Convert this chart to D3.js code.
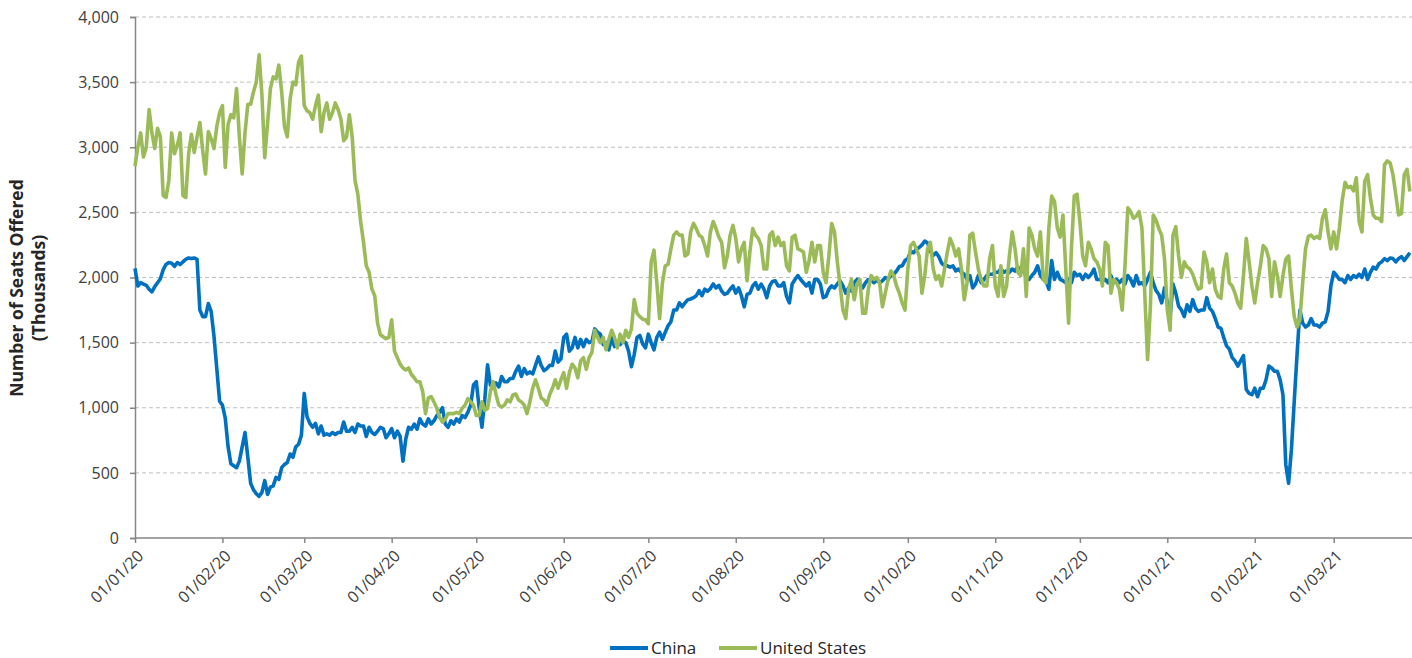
<!DOCTYPE html>
<html>
<head>
<meta charset="utf-8">
<script src="https://cdn.jsdelivr.net/npm/d3@7"></script>
<style>
  html, body { margin: 0; padding: 0; background: #fff; }
  svg { display: block; font-family: "Open Sans", Lato, sans-serif; }
</style>
</head>
<body>
<svg id="chart" width="1412" height="658"></svg>
<script>
// ---- data ----
const startDate = "2020-01-01";
const endDate = "2021-03-28";
const seriesNames = ["China", "United States"];
const yTicks = [0, 500, 1000, 1500, 2000, 2500, 3000, 3500, 4000];
const xTickDates = ["2020-01-01","2020-02-01","2020-03-01","2020-04-01","2020-05-01","2020-06-01",
  "2020-07-01","2020-08-01","2020-09-01","2020-10-01","2020-11-01","2020-12-01",
  "2021-01-01","2021-02-01","2021-03-01"];

const china = [
2070,1935,1960,1950,1940,1910,1890,1930,1960,1990,
2060,2100,2115,2110,2085,2115,2100,2120,2140,2150,
2145,2150,2140,1750,1700,1700,1800,1740,1550,1300,
1050,1020,920,700,570,555,540,590,700,810,
620,420,370,340,320,350,440,335,390,400,
465,450,540,565,580,645,620,700,720,790,
1110,930,880,850,880,800,860,790,800,790,
810,795,810,810,890,820,820,850,810,875,
860,860,780,850,810,795,820,850,840,770,
800,840,770,820,780,590,760,850,835,875,
835,915,875,860,915,875,900,940,965,1000,
875,850,900,875,915,890,940,925,965,1020,
1175,1200,1005,850,1060,1330,1175,1160,1190,1160,
1240,1200,1200,1225,1225,1280,1320,1240,1300,1260,
1275,1260,1325,1390,1325,1285,1300,1325,1325,1435,
1350,1375,1540,1565,1435,1460,1540,1460,1525,1470,
1525,1500,1510,1605,1580,1565,1485,1500,1445,1540,
1470,1500,1485,1510,1500,1435,1315,1410,1540,1555,
1490,1460,1565,1500,1445,1540,1580,1525,1580,1630,
1660,1750,1750,1805,1775,1805,1830,1835,1845,1860,
1900,1860,1910,1895,1915,1950,1920,1940,1895,1870,
1880,1910,1935,1880,1920,1860,1775,1870,1880,1935,
1960,1910,1950,1910,1845,1935,1970,1975,1935,1935,
1960,1855,1805,1950,1985,2015,1985,1960,1935,1960,
1880,1985,1985,1950,1845,1855,1910,1935,1920,1950,
1975,1935,1880,1920,1895,1960,1985,1950,1920,1960,
1985,1985,1960,1985,1960,1975,2000,1985,2015,2025,
2050,2085,2090,2130,2145,2200,2190,2215,2230,2250,
2280,2265,2200,2170,2190,2160,2110,2090,2090,2080,
2090,2050,2065,2040,2025,1985,2015,1920,1950,2015,
1960,1985,2015,2025,2025,2040,2040,2065,2040,2050,
2040,2065,2050,2080,2040,2065,2000,1985,2015,2040,
2090,2015,1985,1975,1910,2130,1985,2040,1985,1975,
1960,1985,1960,2040,2015,2025,1985,2025,2000,2025,
2065,1985,1985,1975,1985,1960,2015,1960,1985,1960,
1985,1950,2015,1985,1935,2015,1950,1960,1935,1985,
2040,1960,1900,1870,1805,1920,1805,1700,1950,1880,
1780,1750,1700,1790,1740,1830,1765,1740,1750,1750,
1845,1765,1740,1685,1620,1610,1540,1475,1450,1385,
1360,1320,1360,1400,1140,1110,1100,1150,1085,1150,
1150,1215,1320,1305,1280,1280,1215,1100,565,420,
680,1050,1410,1750,1650,1620,1635,1685,1635,1635,
1620,1650,1660,1740,1935,2040,2015,1985,1985,1960,
2015,1985,2015,2000,2025,2000,2065,1985,2040,2080,
2065,2105,2120,2145,2130,2150,2145,2120,2145,2160,
2130,2160,2190
];

const unitedStates = [
2855,3000,3110,2925,3000,3290,3110,2990,3145,3080,
2630,2615,2745,3110,2950,3015,3110,2630,2615,2950,
3100,2960,3080,3190,2975,2795,3120,3065,2990,3160,
3265,3320,2845,3175,3250,3225,3450,3080,2795,3110,
3330,3330,3425,3500,3710,3400,2920,3180,3450,3540,
3525,3630,3425,3160,3080,3370,3500,3480,3655,3700,
3320,3280,3265,3215,3320,3400,3120,3265,3340,3215,
3265,3340,3290,3215,3050,3080,3250,3080,2745,2640,
2430,2275,2090,2040,1910,1860,1650,1560,1545,1530,
1540,1675,1435,1385,1335,1305,1290,1305,1255,1230,
1200,1200,1125,955,1075,1085,1045,995,925,890,
915,955,955,955,965,955,995,1020,1070,1045,
1020,940,940,1045,980,995,1125,1200,1100,1020,
1005,1020,1060,1045,1100,1105,1060,1045,1020,955,
1045,1150,1215,1150,1075,1060,1020,1100,1150,1215,
1150,1215,1270,1150,1270,1335,1305,1230,1360,1385,
1295,1385,1425,1595,1540,1500,1540,1445,1525,1595,
1540,1460,1565,1500,1595,1540,1605,1830,1725,1700,
1680,1675,1645,2120,2210,1960,1685,1960,2090,2100,
2220,2325,2350,2325,2325,2165,2180,2350,2415,2375,
2325,2310,2245,2165,2350,2430,2375,2310,2270,2075,
2165,2325,2400,2300,2120,2220,2270,1975,2195,2375,
2325,2300,2245,2065,2065,2325,2350,2245,2310,2245,
2270,2090,2050,2310,2325,2220,2210,2195,2040,2130,
2270,2120,2245,2245,2040,1960,2165,2415,2350,2120,
1935,1750,1685,1910,1985,1830,1950,1985,1725,1725,
1910,2015,1985,2000,1960,1775,1880,1985,2050,2015,
1935,1880,1805,1750,2065,2245,2270,2220,2165,1880,
2015,2220,2270,2065,1985,2015,1935,2065,2195,2300,
2245,2165,2220,2065,1830,1960,2325,2340,2195,2065,
1985,1935,1935,2145,2245,1935,1855,2090,1855,1935,
2165,2350,2220,2040,2015,2220,1855,2380,2325,2220,
2165,2350,1985,1960,2380,2625,2585,2380,2310,2480,
2065,1650,2220,2625,2640,2430,2165,2090,2270,2220,
2145,2120,2065,1935,2270,2245,1880,1985,1960,1910,
1750,2090,2535,2505,2455,2470,2505,2380,1880,1370,
1775,2480,2440,2375,2325,2145,1750,1595,2325,2390,
2165,2000,2120,2080,2065,2025,1960,1910,1920,2195,
2120,1960,2065,1910,1855,1840,2065,2180,1960,1935,
1880,1805,1765,2015,2300,2120,1935,1805,1960,2090,
2245,2220,2145,1855,2120,2015,1855,2015,2140,2165,
1910,1700,1620,1675,1960,2220,2315,2325,2300,2315,
2300,2455,2520,2350,2220,2350,2220,2380,2590,2730,
2690,2700,2665,2765,2430,2350,2740,2790,2610,2480,
2455,2455,2430,2865,2895,2880,2790,2635,2480,2490,
2790,2830,2660
];

const seriesColors = ["#0070C0", "#9BBB59"];

// ---- chart ----
const svg = d3.select("#chart");
const plotLeft = 135, plotRight = 1412.7, plotTop = 17, plotBottom = 538;
const parse = d3.utcParse("%Y-%m-%d");
const dates = d3.utcDay.range(parse(startDate), d3.utcDay.offset(parse(endDate), 1));

const x = d3.scaleUtc()
  .domain([parse(startDate), d3.utcDay.offset(parse(endDate), 1)])
  .range([plotLeft, plotRight]);
const y = d3.scaleLinear().domain([0, 4000]).range([plotBottom, plotTop]);

// gridlines
svg.append("g").selectAll("line")
  .data(yTicks.filter(d => d > 0))
  .join("line")
  .attr("x1", plotLeft).attr("x2", 1412)
  .attr("y1", d => y(d)).attr("y2", d => y(d))
  .attr("stroke", "#BFBFBF").attr("stroke-width", 1)
  .attr("stroke-dasharray", "4,3");

// y axis
const yAxis = d3.axisLeft(y).tickValues(yTicks).tickFormat(d3.format(",")).tickSize(5).tickPadding(11);
const gy = svg.append("g").attr("transform", `translate(${plotLeft},0)`).call(yAxis);
gy.select(".domain").attr("stroke", "#868686").attr("stroke-width", 1.5);
gy.selectAll(".tick line").attr("stroke", "#868686").attr("stroke-width", 1.5);
gy.selectAll(".tick text").attr("fill", "#404040").style("font-size", "16px").style("font-family", "'Open Sans', sans-serif");

// x axis
const xAxis = d3.axisBottom(x).tickValues(xTickDates.map(parse)).tickFormat(d3.utcFormat("%d/%m/%y")).tickSize(5).tickSizeOuter(0);
const gx = svg.append("g").attr("transform", `translate(0,${plotBottom})`).call(xAxis);
gx.select(".domain").attr("stroke", "#868686").attr("stroke-width", 1.5).attr("d", `M${plotLeft},0H1412`);
gx.selectAll(".tick line").attr("stroke", "#868686").attr("stroke-width", 1.5);
gx.selectAll(".tick text")
  .attr("fill", "#404040").style("font-size", "16px").style("font-family", "'Open Sans', sans-serif")
  .attr("text-anchor", "end")
  .attr("y", 0).attr("dy", "0.35em")
  .attr("transform", "translate(5,15) rotate(-45)");

// y title
svg.append("text")
  .attr("transform", "translate(23,288) rotate(-90)")
  .attr("text-anchor", "middle")
  .attr("fill", "#262626")
  .style("font-size", "17.5px").style("font-weight", "bold")
  .style("font-family", "'Open Sans', sans-serif")
  .selectAll("tspan")
  .data(["Number of Seats Offered", "(Thousands)"])
  .join("tspan")
  .attr("x", 0).attr("dy", (d, i) => i === 0 ? 0 : "1.25em")
  .text(d => d);

// lines
const seriesData = [china, unitedStates];
const line = d3.line().x((d, i) => x(dates[i])).y(d => y(d));
svg.append("g").selectAll("path")
  .data(seriesData)
  .join("path")
  .attr("d", d => line(d))
  .attr("fill", "none")
  .attr("stroke", (d, i) => seriesColors[i])
  .attr("stroke-width", 3.6)
  .attr("stroke-linejoin", "round");

// legend
const legend = svg.append("g").attr("transform", "translate(0,648)");
const legendItems = [{x: 610, w: 38}, {x: 719, w: 38}];
seriesNames.forEach((name, i) => {
  legend.append("line").attr("x1", legendItems[i].x).attr("x2", legendItems[i].x + legendItems[i].w)
    .attr("y1", 0).attr("y2", 0).attr("stroke", seriesColors[i]).attr("stroke-width", 4);
  legend.append("text").attr("x", legendItems[i].x + legendItems[i].w + 3).attr("y", 0).attr("dy", "0.35em")
    .attr("fill", "#262626").style("font-size", "17px").style("font-family", "'Open Sans', sans-serif").text(name);
});
</script>
</body>
</html>
